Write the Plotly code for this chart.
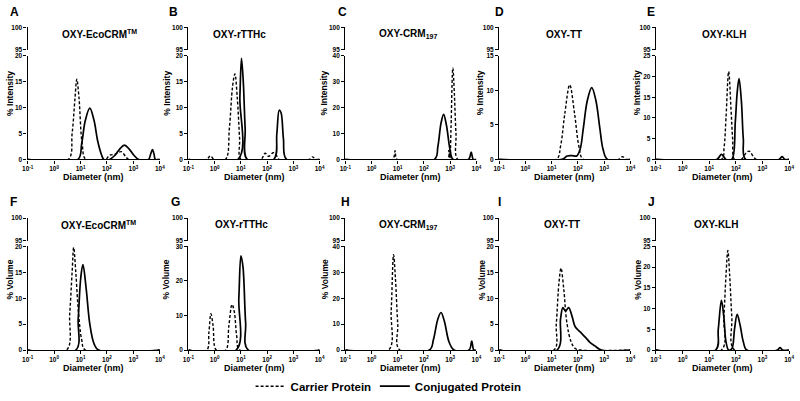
import plotly.graph_objects as go

# ---------------- data (diameter in nm, % values) ----------------
A_car_d = [0.1, 3.4, 4.8, 6.2, 7.2, 8.7, 11.5, 15.8, 87, 126, 200, 347, 501, 661, 10000]
A_car_y = [0, 0, 5, 12, 15.5, 12, 3, 0, 0, 0.8, 1.0, 1.5, 0.6, 0, 0]
A_con_d = [0.1, 7.9, 11, 15.1, 22.4, 32.4, 44.7, 63, 76, 126, 200, 302, 457, 692, 1047, 1585, 3715, 4467, 5248, 6026, 6761, 10000]
A_con_y = [0, 0, 3, 7.5, 9.9, 7.5, 3.5, 0.8, 0, 0, 0.8, 2.0, 2.75, 2.0, 0.8, 0, 0, 1.0, 1.9, 1.0, 0, 0]

B_car_d = [0.1, 0.49, 0.69, 0.95, 2.57, 3.63, 4.79, 5.89, 7.24, 8.91, 10, 57.5, 83.2, 115, 170, 224, 282, 3981, 5495, 6918, 10000]
B_car_y = [0, 0, 0.7, 0, 0, 6, 14, 16.5, 12, 4, 0, 0, 1.2, 0.6, 1.3, 0.8, 0, 0, 0.5, 0, 0]
B_con_d = [0.1, 7.76, 9.12, 10.5, 12.3, 14.5, 17.4, 178, 234, 288, 339, 417, 550, 10000]
B_con_y = [0, 0, 12, 19.5, 15, 6, 0, 0, 5, 9.5, 9, 4, 0, 0]

C_car_d = [0.1, 6.31, 7.94, 9.55, 794, 891, 977, 1072, 1259, 1445, 1660, 1950, 10000]
C_car_y = [0, 0, 3.4, 0, 0, 3.5, 0.5, 12, 35.3, 25, 10, 0, 0]
C_con_d = [0.1, 251, 339, 447, 562, 724, 977, 1288, 5012, 6310, 7586, 10000]
C_con_y = [0, 0, 5, 14, 17.4, 13, 4, 0, 0, 2.8, 0, 0]

D_car_d = [0.1, 15.1, 21.9, 31.6, 49, 75.9, 110, 162, 3548, 5012, 7079, 10000]
D_car_y = [0, 0, 1.9, 6.5, 10.8, 6.5, 1.9, 0, 0, 0.4, 0, 0]
D_con_d = [0.1, 25.1, 38.9, 60.3, 91.2, 123, 162, 229, 339, 490, 692, 912, 1349, 10000]
D_con_y = [0, 0, 0.5, 0.55, 0.5, 1.5, 4.5, 8.5, 10.4, 8.5, 4.5, 1.5, 0, 0]

E_car_d = [0.1, 28.8, 36.3, 42.7, 53.7, 66.1, 75.9, 89.1, 158, 240, 316, 447, 589, 10000]
E_car_y = [0, 0, 3, 10, 21.2, 12, 5, 0, 0, 1.5, 2.0, 0.8, 0, 0]
E_con_d = [0.1, 19.1, 28.8, 42.7, 70.8, 95.5, 112, 132, 162, 191, 234, 4169, 5495, 6918, 10000]
E_con_y = [0, 0, 1.2, 0, 0, 9, 16, 19.5, 14, 5, 0, 0, 0.7, 0, 0]

F_car_d = [0.1, 2.95, 3.89, 4.79, 5.5, 6.61, 8.13, 11, 15.1, 10000]
F_car_y = [0, 0, 7, 15, 19.8, 15, 8, 2, 0, 0]
F_con_d = [0.1, 6.61, 8.13, 10.2, 12.3, 16.2, 22.4, 32.4, 47.9, 10000]
F_con_y = [0, 0, 6, 14, 16.5, 12, 5, 1.2, 0, 0]

G_car_d = [0.1, 0.5, 0.6, 0.72, 0.87, 1.15, 2.63, 3.47, 4.57, 5.62, 6.92, 9.12, 10000]
G_car_y = [0, 0, 5, 10.5, 7, 0, 0, 7, 13.2, 11, 4, 0, 0]
G_con_d = [0.1, 6.61, 8.32, 10, 12, 15.1, 19.1, 10000]
G_con_y = [0, 0, 15, 27.3, 24, 8, 0, 0]

H_car_d = [0.1, 4.47, 5.62, 6.92, 8.13, 10, 12, 10000]
H_car_y = [0, 0, 15, 36.8, 28, 10, 0, 0]
H_con_d = [0.1, 162, 229, 339, 447, 603, 912, 1413, 5248, 6607, 7943, 10000]
H_con_y = [0, 0, 4, 12, 14.5, 11, 3, 0, 0, 3.5, 0, 0]

I_car_d = [0.1, 12.3, 15.1, 19.1, 22.9, 28.8, 38.9, 56.2, 79.4, 123, 10000]
I_car_y = [0, 0, 5, 13, 15.8, 12, 5, 1.5, 0.3, 0, 0]
I_con_d = [0.1, 16.2, 21.9, 26.9, 33.9, 44.7, 60.3, 79.4, 123, 191, 288, 447, 794, 10000]
I_con_y = [0, 0, 6, 8.2, 7.5, 8.2, 6.5, 4.5, 3.5, 2.5, 1.5, 0.8, 0, 0]

J_car_d = [0.1, 28.8, 35.5, 42.7, 50.1, 58.9, 70.8, 89.1, 10000]
J_car_y = [0, 0, 8, 18, 24, 18, 8, 0, 0]
J_con_d = [0.1, 17.4, 21.9, 28.8, 35.5, 42.7, 53.7, 70.8, 89.1, 112, 145, 191, 257, 3631, 4571, 5754, 10000]
J_con_y = [0, 0, 5, 12, 8, 2, 0, 0.3, 5, 8.6, 6, 2, 0, 0, 0.6, 0, 0]

letters = ["A", "B", "C", "D", "E", "F", "G", "H", "I", "J"]
titles = ["OXY-EcoCRM<sup>TM</sup>", "OXY-rTTHc", "OXY-CRM<sub>197</sub>", "OXY-TT", "OXY-KLH"] * 2
y_labels = ["% Intensity"] * 5 + ["% Volume"] * 5
y_max = [20, 20, 40, 15, 25, 20, 30, 40, 20, 25]
y_step = [5, 5, 10, 5, 5, 5, 10, 10, 5, 5]
top_ticks = [95, 100]
x_tickvals = [0.1, 1, 10, 100, 1000, 10000]
x_ticktext = ["10<sup>-1</sup>", "10<sup>0</sup>", "10<sup>1</sup>", "10<sup>2</sup>", "10<sup>3</sup>", "10<sup>4</sup>"]
carrier = [(A_car_d, A_car_y), (B_car_d, B_car_y), (C_car_d, C_car_y), (D_car_d, D_car_y), (E_car_d, E_car_y),
           (F_car_d, F_car_y), (G_car_d, G_car_y), (H_car_d, H_car_y), (I_car_d, I_car_y), (J_car_d, J_car_y)]
conjug = [(A_con_d, A_con_y), (B_con_d, B_con_y), (C_con_d, C_con_y), (D_con_d, D_con_y), (E_con_d, E_con_y),
          (F_con_d, F_con_y), (G_con_d, G_con_y), (H_con_d, H_con_y), (I_con_d, I_con_y), (J_con_d, J_con_y)]

# ---------------- layout geometry (pixels) ----------------
W, H = 800, 401
col_x = [(22, 156), (185, 318), (344, 477), (500, 633), (659, 794)]
row_top = [(24, 47), (219, 242)]      # 100 .. 95 segment
row_main = [(53, 159), (248, 354)]    # ymax .. 0 segment
title_x = [95, 237, 408, 566, 728, 94, 239, 408, 564, 720]
title_y = [31, 226]
letter_x = [9, 170, 341, 500, 654, 8, 172, 344, 500, 654]
ylab_x = [4, 163, 322, 481, 640, 4, 162, 323, 482, 640]

FONT = "Arial, Liberation Sans, sans-serif"


def px(x):
    return x / W


def py(y):
    return 1 - y / H


fig = go.Figure()
layout = dict(width=W, height=H, margin=dict(l=0, r=0, t=0, b=0), autosize=False,
              plot_bgcolor="white", paper_bgcolor="white", annotations=[],
              font=dict(family=FONT, color="black"))

axis_common = dict(showline=True, linecolor="black", linewidth=1.4, ticks="outside", ticklen=3,
                   tickwidth=1.2, tickcolor="black", showgrid=False, zeroline=False,
                   tickfont=dict(family=FONT, size=6.5, color="black", weight="bold"))

for i in range(10):
    r, c = divmod(i, 5)
    xn = i + 1
    ym = 2 * i + 1
    yt = 2 * i + 2
    xid = "x" if xn == 1 else f"x{xn}"
    ymid = "y" if ym == 1 else f"y{ym}"
    ytid = f"y{yt}"
    x0, x1 = col_x[c]
    layout[f"xaxis{'' if xn == 1 else xn}"] = dict(
        axis_common, type="log", range=[-1, 4], domain=[px(x0), px(x1)], anchor=ymid,
        tickvals=x_tickvals, ticktext=x_ticktext)
    layout[f"yaxis{'' if ym == 1 else ym}"] = dict(
        axis_common, range=[0, y_max[i]], domain=[py(row_main[r][1]), py(row_main[r][0])], anchor=xid,
        tickvals=list(range(0, y_max[i] + 1, y_step[i])))
    layout[f"yaxis{yt}"] = dict(
        axis_common, range=[95, 100], domain=[py(row_top[r][1]), py(row_top[r][0])], anchor=xid,
        tickvals=top_ticks)

    for yid in (ymid, ytid):
        first = (i == 0 and yid == ymid)
        fig.add_trace(go.Scatter(x=carrier[i][0], y=carrier[i][1], xaxis=xid, yaxis=yid, mode="lines",
                                 line=dict(color="black", width=1.4, dash="3px,2px", shape="spline", smoothing=1),
                                 name="Carrier Protein", showlegend=first, legend="legend", hoverinfo="skip"))
        fig.add_trace(go.Scatter(x=conjug[i][0], y=conjug[i][1], xaxis=xid, yaxis=yid, mode="lines",
                                 line=dict(color="black", width=1.7, shape="spline", smoothing=1),
                                 name="Conjugated Protein", showlegend=first, legend="legend2", hoverinfo="skip"))

    bold = dict(family=FONT, color="black", weight="bold")
    ann = layout["annotations"]
    ann.append(dict(text=titles[i], x=px(title_x[i]), y=py(title_y[r]), xref="paper", yref="paper",
                    showarrow=False, xanchor="center", yanchor="middle", font=dict(bold, size=10)))
    ann.append(dict(text=letters[i], x=px(letter_x[i]), y=py(8 + 195 * r), xref="paper", yref="paper",
                    showarrow=False, xanchor="center", yanchor="middle", font=dict(bold, size=12)))
    ann.append(dict(text=y_labels[i], x=px(ylab_x[i]), y=py(91 + 191 * r), xref="paper", yref="paper",
                    showarrow=False, xanchor="center", yanchor="middle", textangle=-90, font=dict(bold, size=8.5)))
    ann.append(dict(text="Diameter (nm)", x=px((x0 + x1) / 2), y=py(row_main[r][1] + 18), xref="paper",
                    yref="paper", showarrow=False, xanchor="center", yanchor="middle", font=dict(bold, size=9)))

leg_font = dict(family=FONT, size=11.5, color="black", weight="bold")
layout["legend"] = dict(orientation="h", x=px(248), xanchor="left", y=py(391), yanchor="middle",
                        font=leg_font, bgcolor="rgba(0,0,0,0)", borderwidth=0)
layout["legend2"] = dict(orientation="h", x=px(374), xanchor="left", y=py(391), yanchor="middle",
                         font=leg_font, bgcolor="rgba(0,0,0,0)", borderwidth=0)
layout["showlegend"] = True
fig.update_layout(**layout)
fig.write_html("out.html", config={"displayModeBar": False},
               post_script="document.body.style.margin='0';document.body.style.padding='0';"
                           "document.body.style.overflow='hidden';")
